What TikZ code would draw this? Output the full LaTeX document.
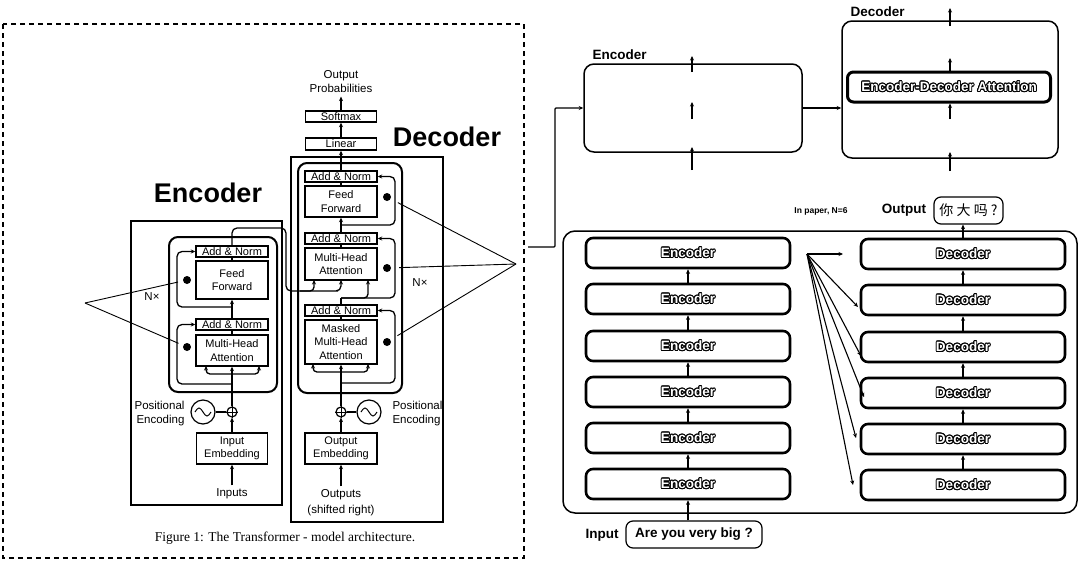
\documentclass[tikz,border=0pt]{standalone}
\usepackage{fontspec}
\setmainfont{Liberation Sans}
\newfontfamily\capfont{Liberation Serif}
\newfontfamily\cjkfont{Noto Sans CJK SC}
\usepackage{contour}
\contourlength{0.9pt}
\usetikzlibrary{arrows.meta}
\newcommand{\hollow}[1]{\contour{black}{\textcolor{white}{#1}}}

\begin{document}
\begin{tikzpicture}[x=1pt,y=-1pt,
	blk/.style={draw, line width=1.4pt, inner sep=0pt, align=center, minimum width=72pt, font=\fontsize{11}{13.5}\selectfont},
	wire/.style={line width=1.3pt},
	arr/.style={wire, -{Stealth[length=4.5pt,width=4pt]}},
	dot/.style={circle, fill, inner sep=0pt, minimum size=8pt},
	lbl/.style={align=center, font=\fontsize{11.5}{14}\selectfont},
	title/.style={font=\fontsize{27}{30}\selectfont\bfseries},
	stk/.style={draw, line width=2.6pt, rounded corners=7pt, minimum width=204pt, minimum height=30pt, inner sep=0pt, font=\fontsize{13.5}{15}\selectfont\bfseries},
	tag/.style={font=\fontsize{13.5}{15}\selectfont\bfseries}]
	\useasboundingbox (0,0) rectangle (1080,563);

	% left half: the paper figure
	\draw[line width=1.2pt, dash pattern=on 5pt off 4pt] (3,24) rectangle (524,558);
	\node[font=\fontsize{13.5}{15}\selectfont\capfont] (cap) at (285,538) {Figure 1: The Transformer - model architecture.};
	\node[title] (encT) at (208,193) {Encoder};
	\node[title] (decT) at (447,137) {Decoder};

	% encoder column
	\draw[line width=1.3pt] (131,221) rectangle (282,505);
	\draw[line width=2pt, rounded corners=9pt] (169,237) rectangle (277,392);
	\node[blk, minimum height=11pt] (eAN1) at (232,251.5) {Add \& Norm};
	\node[blk, minimum height=38pt] (eFF) at (232,280) {Feed\\Forward};
	\node[blk, minimum height=11pt] (eAN2) at (232,324.5) {Add \& Norm};
	\node[blk, minimum height=31pt] (eMHA) at (232,350.5) {Multi-Head\\Attention};
	\node[blk, minimum height=31pt, minimum width=71pt] (eEmb) at (232,448.5) {Input\\Embedding};
	\node[lbl] (eIn) at (232,494) {Inputs};
	\node[draw, circle, line width=1.2pt, minimum size=10pt, inner sep=0pt] (ePlus) at (232,412) {};
	\draw[line width=1pt] (ePlus.north) -- (ePlus.south) (ePlus.west) -- (ePlus.east);
	\node[draw, circle, line width=1.2pt, minimum size=24pt, inner sep=0pt] (eSin) at (203,412) {};
	\draw[line width=1pt] (195,412) sin (199,408) cos (203,412) sin (207,416) cos (211,412);
	\node[lbl, align=right, anchor=east] (ePos) at (188,414) {Positional\\Encoding};
	\node[dot] (eDot1) at (187,280) {};
	\node[dot] (eDot2) at (187,347) {};
	\node[lbl] (eNx) at (152,297) {N×};

	\draw[arr] (eIn) -- (eEmb);
	\draw[arr] (eEmb) -- (ePlus);
	\draw[wire] (eSin) -- (ePlus);
	\draw[arr] (ePlus) -- (eMHA);
	\draw[arr, rounded corners=4pt] (232,374) -| (206,366);
	\draw[arr, rounded corners=4pt] (232,374) -| (259,366);
	\draw[wire] (eMHA) -- (eAN2);
	\draw[arr, rounded corners=5pt] (232,384) -| (177,324.5) -- (eAN2.west);
	\draw[arr] (eAN2) -- (eFF);
	\draw[wire] (eFF) -- (eAN1);
	\draw[arr, rounded corners=5pt] (232,307) -| (177,251.5) -- (eAN1.west);

	% decoder column
	\draw[line width=1.3pt] (291,157) rectangle (443,522);
	\draw[line width=2pt, rounded corners=9pt] (298,163) rectangle (402,393);
	\node[blk, minimum height=11pt] (dAN1) at (341,176.5) {Add \& Norm};
	\node[blk, minimum height=31pt] (dFF) at (341,201.5) {Feed\\Forward};
	\node[blk, minimum height=11pt] (dAN2) at (341,238.5) {Add \& Norm};
	\node[blk, minimum height=32pt] (dMHA) at (341,264) {Multi-Head\\Attention};
	\node[blk, minimum height=11pt] (dAN3) at (341,310.5) {Add \& Norm};
	\node[blk, minimum height=44pt] (dMMHA) at (341,342) {Masked\\Multi-Head\\Attention};
	\node[blk, minimum height=12pt, minimum width=71pt] (dLin) at (341,144) {Linear};
	\node[blk, minimum height=11pt, minimum width=71pt] (dSoft) at (341,116.5) {Softmax};
	\node[lbl] (dOP) at (341,82) {Output\\Probabilities};
	\node[blk, minimum height=31pt] (dEmb) at (341,448.5) {Output\\Embedding};
	\node[lbl, font=\fontsize{11.5}{16}\selectfont] (dOut) at (341,503) {Outputs\\(shifted right)};
	\node[draw, circle, line width=1.2pt, minimum size=10pt, inner sep=0pt] (dPlus) at (341,412) {};
	\draw[line width=1pt] (dPlus.north) -- (dPlus.south) (dPlus.west) -- (dPlus.east);
	\node[draw, circle, line width=1.2pt, minimum size=24pt, inner sep=0pt] (dSin) at (369,412) {};
	\draw[line width=1pt] (361,412) sin (365,408) cos (369,412) sin (373,416) cos (377,412);
	\node[lbl, align=left, anchor=west] (dPos) at (389,414) {Positional\\Encoding};
	\node[dot] (dDot1) at (387,197) {};
	\node[dot] (dDot2) at (387,268) {};
	\node[dot] (dDot3) at (387,342) {};
	\node[lbl] (dNx) at (420,283) {N×};

	\draw[arr] (dOut) -- (dEmb);
	\draw[arr] (dEmb) -- (dPlus);
	\draw[wire] (dSin) -- (dPlus);
	\draw[arr] (dPlus) -- (dMMHA);
	\draw[arr, rounded corners=4pt] (341,372) -| (313,364);
	\draw[arr, rounded corners=4pt] (341,372) -| (368,364);
	\draw[wire] (dMMHA) -- (dAN3);
	\draw[arr, rounded corners=5pt] (341,383) -| (395,310.5) -- (dAN3.east);
	\draw[wire] (dAN3) -- (341,298);
	\draw[arr, rounded corners=4pt] (341,298) -| (368,280);
	\draw[arr, rounded corners=5pt] (341,298) -| (395,238.5) -- (dAN2.east);
	\draw[arr, rounded corners=5pt] (eAN1) |- (286,228) |- (333,291) -- (341,291) -- (341,280);
	\draw[arr, rounded corners=4pt] (300,291) -| (314,280);
	\draw[wire] (dMHA) -- (dAN2);
	\draw[arr] (dAN2) -- (dFF);
	\draw[wire] (dFF) -- (dAN1);
	\draw[arr, rounded corners=5pt] (341,225) -| (395,176.5) -- (dAN1.east);
	\draw[arr] (dAN1) -- (dLin);
	\draw[arr] (dLin) -- (dSoft);
	\draw[arr] (dSoft) -- (dOP);

	% N x pointers
	\coordinate (pL) at (85,303);
	\coordinate (pR) at (516,264);
	\draw[line width=0.9pt, shorten >=5pt] (pL) -- (eDot1);
	\draw[line width=0.9pt, shorten >=5pt] (pL) -- (eDot2);
	\draw[line width=0.9pt, shorten >=8pt] (pR) -- (dDot1);
	\draw[line width=0.9pt, shorten >=8pt] (pR) -- (dDot2);
	\draw[line width=0.9pt, shorten >=8pt] (pR) -- (dDot3);

	% right half, top: one encoder and one decoder
	\node[tag, anchor=west] (tEncL) at (589,55) {Encoder};
	\node[draw, line width=1.5pt, rounded corners=10pt, minimum width=218pt, minimum height=88pt] (tEnc) at (693,108) {};
	\node[tag, anchor=west] (tDecL) at (847,12) {Decoder};
	\node[draw, line width=1.5pt, rounded corners=10pt, minimum width=216pt, minimum height=137pt] (tDec) at (950,89.5) {};
	\node[draw, line width=3pt, rounded corners=6pt, minimum width=203pt, minimum height=30pt, inner sep=0pt, font=\fontsize{13.5}{15}\selectfont\bfseries] (tEDA) at (949,87) {\hollow{Encoder-Decoder Attention}};
	\coordinate (hook) at (528,247);
	\draw[arr, rounded corners=1pt] (hook) -- (555,247) -- (555,108) -- (tEnc.west);
	\draw[arr] (tEnc.east) -- (tEnc.east -| tDec.west);
	\draw[arr] (692,170) -- (692,147);
	\draw[arr] (692,119) -- (692,102);
	\draw[arr] (692,72) -- (692,56);
	\draw[arr] (950,171) -- (950,152);
	\draw[arr] (950,119) -- (tEDA.south -| 950,0);
	\draw[arr] (tEDA.north -| 950,0) -- (950,58);
	\draw[arr] (950,26) -- (950,8);

	% right half, bottom: the N=6 stacks
	\draw[line width=1.5pt, rounded corners=12pt] (563,231) rectangle (1077,513);
	\foreach \i/\y in {1/253,2/299,3/346,4/392,5/438,6/484} {
		\node[stk] (S\i) at (688,\y) {\hollow{Encoder}};
		\node[stk] (D\i) at (963,\y+1) {\hollow{Decoder}};
	}
	\foreach \i/\j in {1/2,2/3,3/4,4/5,5/6} {
		\draw[arr] (S\j) -- (S\i);
		\draw[arr] (D\j) -- (D\i);
	}
	\node[draw, line width=1.2pt, rounded corners=7pt, minimum width=136pt, minimum height=27pt, inner sep=0pt, tag] (inBox) at (694,534.5) {Are you very big ?};
	\node[tag] (inL) at (602,535) {Input};
	\node[draw, line width=1.2pt, rounded corners=7pt, minimum width=69pt, minimum height=27pt, inner sep=0pt, font=\fontsize{14}{16}\selectfont\cjkfont] (outBox) at (968.5,210.5) {你 大 吗 ?};
	\node[tag] (outL) at (904,210) {Output};
	\node[font=\fontsize{8.5}{10}\selectfont\bfseries] (paper) at (821,211) {In paper, N=6};
	\draw[arr] (S6.south |- inBox.north) -- (S6.south);
	\draw[arr] (D1.north) -- (D1.north |- outBox.south);
	\coordinate (fan) at (807,254);
	\foreach \x/\y [count=\k] in {843/254, 858/307, 861/356, 864/397, 856/438, 853/485} {
		\coordinate (f\k) at (\x,\y);
		\draw[arr, line width=1.1pt] (fan) -- (f\k);
	}
\end{tikzpicture}
\end{document}
